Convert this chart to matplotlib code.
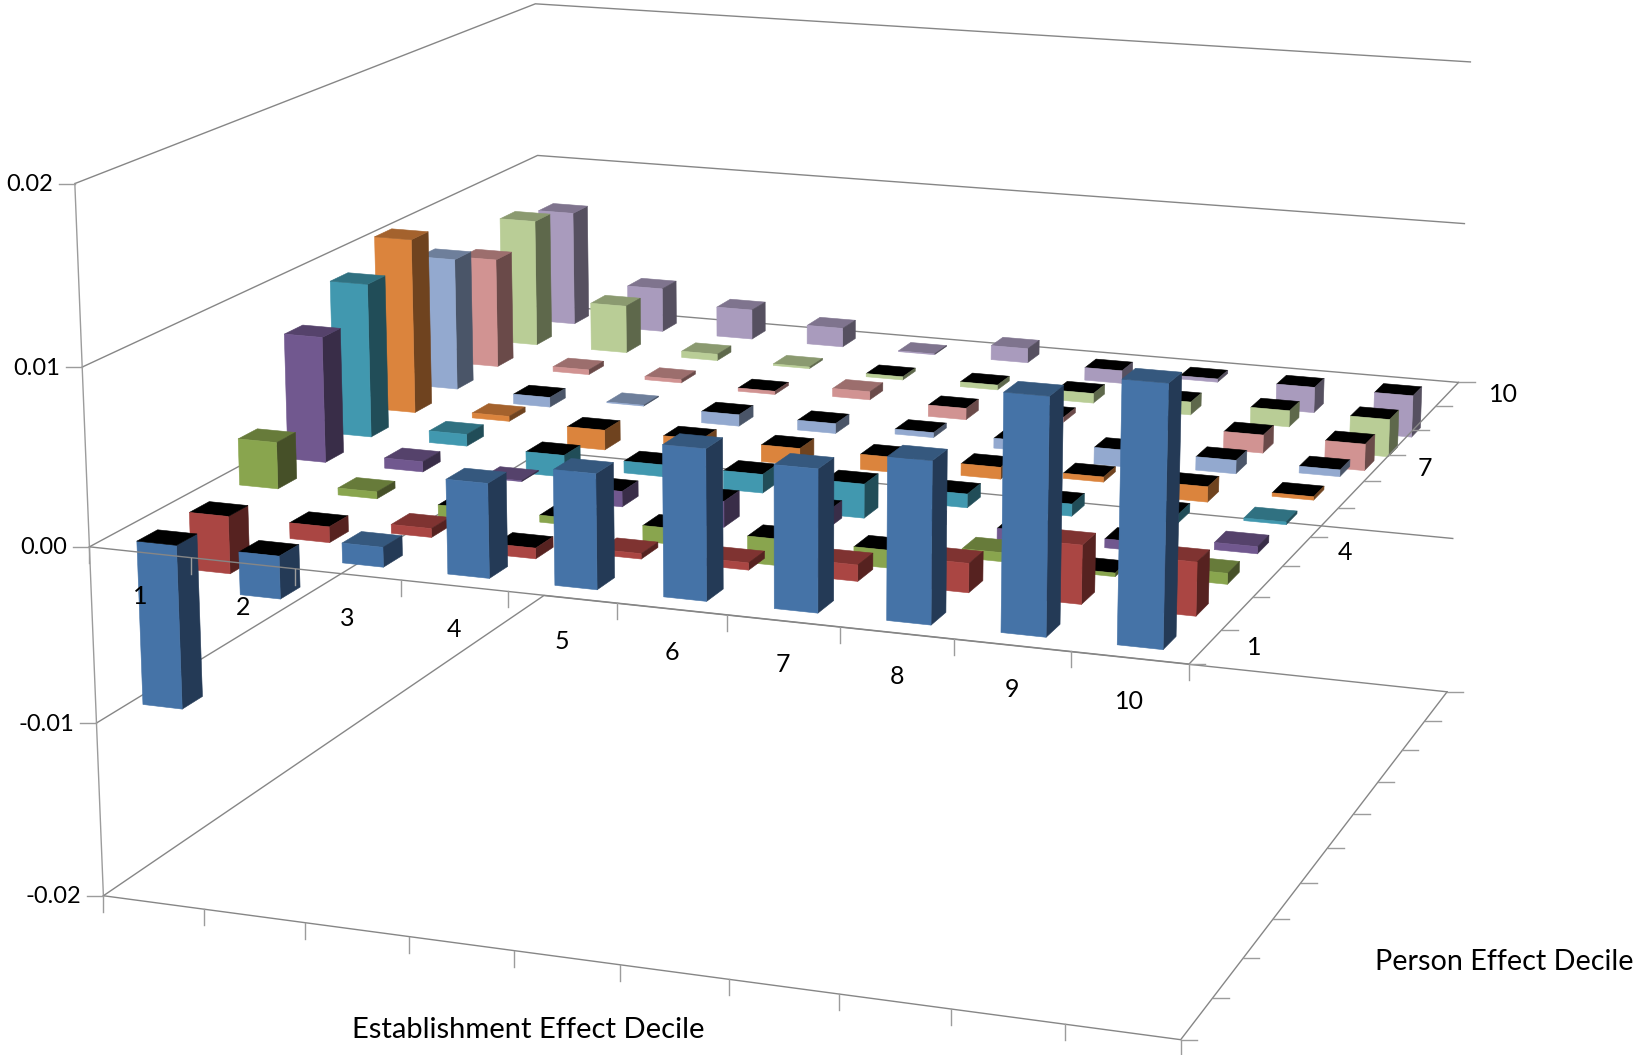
import numpy as np
import matplotlib
matplotlib.use('Agg')
import matplotlib.pyplot as plt
from matplotlib.lines import Line2D

W, H = 1636, 1055

plt.rcParams['font.family'] = ['Lato', 'DejaVu Sans']

# rows: person effect decile 1..10, columns: establishment effect decile 1..10
person1 = [-0.0093, -0.0024, 0.0011, 0.0052, 0.0063, 0.0082, 0.0077, 0.0087, 0.0126, 0.0138]
person2 = [-0.0033, -0.0009, 0.0005, -0.0006, 0.0003, 0.0004, 0.0009, 0.0016, 0.0032, 0.0029]
person3 = [0.0027, 0.0004, -0.0007, -0.0004, -0.0009, -0.0015, -0.0010, 0.0005, -0.0002, 0.0006]
person4 = [0.0074, 0.0006, 0.00005, -0.0009, -0.0015, -0.0010, -0.0008, -0.0007, -0.0005, 0.0004]
person5 = [0.0092, 0.0007, -0.0013, -0.0007, -0.0011, -0.0020, -0.0008, -0.0007, -0.0005, 0.00015]
person6 = [0.0106, 0.0003, -0.0012, -0.0006, -0.0010, -0.0009, -0.0007, -0.0003, -0.0009, -0.0002]
person7 = [0.0081, -0.0006, 0.00005, -0.0007, -0.0006, -0.0003, -0.0006, -0.0010, -0.0008, -0.0004]
person8 = [0.0068, 0.0003, 0.0002, -0.0002, 0.0005, -0.0007, -0.0003, -0.0005, -0.0011, -0.0016]
person9 = [0.0080, 0.0030, 0.0004, 0.0001, -0.0002, -0.0003, -0.0006, -0.0008, -0.0010, -0.0023]
person10 = [0.0073, 0.0028, 0.0019, 0.0012, 0.00005, 0.0009, -0.0008, -0.0002, -0.0016, -0.0026]
values = [person1, person2, person3, person4, person5, person6, person7, person8, person9, person10]

decile_labels = ['1', '2', '3', '4', '5', '6', '7', '8', '9', '10']
person_labels = {1: '1', 4: '4', 7: '7', 10: '10'}
z_ticks = [0.02, 0.01, 0.00, -0.01, -0.02]
z_labels = ['0.02', '0.01', '0.00', '-0.01', '-0.02']

front_cols = ['#4573A7', '#AA4643', '#89A54E', '#71588F', '#4198AF',
              '#DB843D', '#93A9CF', '#D19392', '#B9CD96', '#A99BBD']
top_cols = ['#35587E', '#7F3331', '#677B3A', '#55426B', '#307181',
            '#A4622D', '#6E7F9B', '#9C6E6D', '#8B9A70', '#7F748E']
side_cols = ['#243A56', '#562220', '#465028', '#392D48', '#214D58',
             '#6F431F', '#4A5568', '#6A4A49', '#5E684B', '#565060']

# where the corners of the chart box sit in the picture, used to fit the camera
box = [(0, 0, 2, 74, 184), (0, 0, 1, 82, 367), (0, 0, 0, 89, 547), (0, 0, -1, 97, 723),
       (0, 0, -2, 104, 895), (10, 0, 0, 1189, 664), (10, 0, -2, 1181, 1040),
       (10, 10, 2, 1469, 63), (10, 10, 1, 1466, 222), (10, 10, 0, 1458, 383),
       (10, 10, -1, 1453, 538), (10, 10, -2, 1447, 692),
       (0, 10, 2, 537, 3), (0, 10, 1, 537, 156), (0, 10, -2, 543, 596)]
rows, rhs = [], []
for X, Y, Z, u, v in box:
    rows.append([X, Y, Z, 1, 0, 0, 0, 0, -u * X, -u * Y, -u * Z])
    rows.append([0, 0, 0, 0, X, Y, Z, 1, -v * X, -v * Y, -v * Z])
    rhs += [u, v]
p = np.linalg.lstsq(np.array(rows, float), np.array(rhs, float), rcond=None)[0]
P = np.append(p, 1.0).reshape(3, 4)
P[:, 2] *= 100  # z was fitted in units of 0.01


def to_fig(x, y, z):
    a = P @ np.array([x, y, z, 1.0])
    return a[0] / a[2] / W, 1 - a[1] / a[2] / H


def get_proj():
    # picture pixels -> 2d axes data, so mplot3d draws through the fitted camera
    T = ax.transData.inverted().get_matrix()
    flip = np.array([[1, 0, 0], [0, -1, H], [0, 0, 1.0]])
    A = T @ flip @ P
    return np.vstack([A[0], A[1], [0, 0, 0, -1.0], A[2]])


fig = plt.figure(figsize=(W / 100, H / 100), dpi=100)
ax = fig.add_axes([0, 0, 1, 1], projection='3d')
ax.set_axis_off()
ax.computed_zorder = False
ax.apply_aspect = lambda position=None: None
ax.get_proj = get_proj

grey = '#868686'
tick_grey = '#9c9c9c'
lw = 1.0

# walls and floor, behind the bars
for z in z_ticks:
    ax.plot([0, 0, 10], [0, 10, 10], [z, z, z], color=grey, lw=lw, zorder=1)
ax.plot([0, 0], [0, 0], [0.02, -0.02], color=tick_grey, lw=lw, zorder=1)
ax.plot([0, 10, 10], [0, 0, 10], [-0.02, -0.02, -0.02], color=grey, lw=lw, zorder=1)

# bars, far ones first
size = 0.39
order = 2
for j in range(9, -1, -1):
    for i in range(9, -1, -1):
        val = values[j][i]
        top = 'black' if val < 0 else top_cols[j]
        # bottom, top, front, back, left, right: only three faces can be seen
        faces = ['none', top, front_cols[j], 'none', 'none', side_cols[j]]
        ax.bar3d(i + 0.5 - size / 2, j + 0.5 - size / 2, min(val, 0), size, size, abs(val),
                 color=faces, edgecolor=faces, linewidth=0.4, shade=False, zorder=order)
        order += 1


def fig_line(pts, color=grey):
    xs, ys = zip(*pts)
    fig.add_artist(Line2D(xs, ys, color=color, lw=lw))


# axis lines at the zero level lie over the bars
fig_line([to_fig(0, 0, 0), to_fig(10, 0, 0), to_fig(10, 10, 0)])

tick = 16
for z, lab in zip(z_ticks, z_labels):
    fx, fy = to_fig(0, 0, z)
    fig_line([(fx, fy), (fx - tick / W, fy)], tick_grey)
    fig.text(fx - 22 / W, fy - 1 / H, lab, ha='right', va='center', fontsize=17, color='black')

for level in [0, -0.02]:
    for i in range(11):
        fx, fy = to_fig(i, 0, level)
        fig_line([(fx, fy), (fx, fy - tick / H)], tick_grey)
    for j in range(11):
        fx, fy = to_fig(10, j, level)
        fig_line([(fx, fy), (fx + tick / W, fy)], tick_grey)

for i, lab in enumerate(decile_labels):
    fx, fy = to_fig(i + 0.5, 0, 0)
    fig.text(fx, fy - 44 / H, lab, ha='center', va='center', fontsize=18, color='black')
for j, lab in person_labels.items():
    fx, fy = to_fig(10, j - 0.5, 0)
    fig.text(fx + 41 / W, fy - 1 / H, lab, ha='left', va='center', fontsize=18, color='black')

fig.text(528 / W, 1 - 1030 / H, 'Establishment Effect Decile', ha='center', va='center',
         fontsize=21, color='black')
fig.text(1504 / W, 1 - 962 / H, 'Person Effect Decile', ha='center', va='center',
         fontsize=20.7, color='black')

fig.savefig('out.png', dpi=100)
